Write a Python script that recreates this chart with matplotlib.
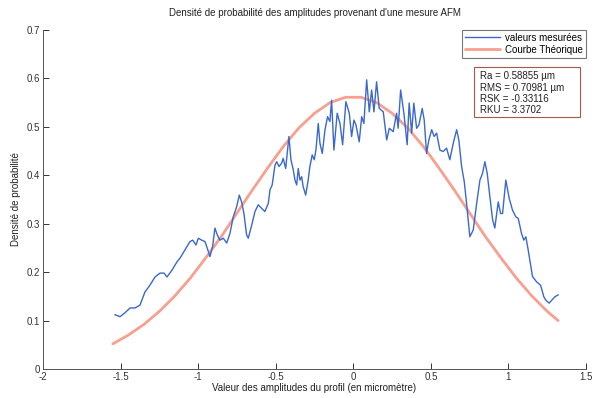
import matplotlib
matplotlib.use("Agg")
import matplotlib.pyplot as plt
from matplotlib.patches import Rectangle

plt.rcParams['font.family'] = ['Liberation Sans', 'DejaVu Sans']

# Measured density (blue)
meas_x = [-1.536, -1.504, -1.472, -1.439, -1.407, -1.375, -1.343, -1.311, -1.278, -1.246,
          -1.220, -1.201, -1.169, -1.137, -1.117, -1.085, -1.053, -1.035, -1.014, -0.999,
          -0.977, -0.956, -0.941, -0.924, -0.907, -0.892, -0.877, -0.860, -0.838, -0.816,
          -0.795, -0.774, -0.752, -0.735, -0.720, -0.705, -0.688, -0.677, -0.655, -0.634,
          -0.613, -0.591, -0.570, -0.548, -0.537, -0.523, -0.505, -0.494, -0.479, -0.462,
          -0.452, -0.436, -0.415, -0.402, -0.387, -0.376, -0.365, -0.355, -0.344, -0.333,
          -0.323, -0.307, -0.291, -0.280, -0.265, -0.252, -0.241, -0.226, -0.215, -0.200,
          -0.183, -0.166, -0.151, -0.140, -0.125, -0.104, -0.086, -0.069, -0.048, -0.026,
          -0.011, 0.004, 0.017, 0.038, 0.054, 0.068, 0.086, 0.103, 0.118, 0.133,
          0.150, 0.167, 0.193, 0.215, 0.232, 0.257, 0.279, 0.289, 0.305, 0.326,
          0.347, 0.360, 0.376, 0.390, 0.408, 0.423, 0.444, 0.457, 0.472, 0.487,
          0.505, 0.521, 0.537, 0.558, 0.579, 0.601, 0.622, 0.644, 0.666, 0.680,
          0.698, 0.715, 0.730, 0.751, 0.773, 0.795, 0.816, 0.833, 0.848, 0.863,
          0.880, 0.898, 0.912, 0.934, 0.949, 0.962, 0.983, 1.005, 1.026, 1.048,
          1.063, 1.084, 1.099, 1.112, 1.127, 1.155, 1.181, 1.207, 1.228, 1.241,
          1.262, 1.299, 1.320]
meas_y = [0.112, 0.108, 0.116, 0.126, 0.126, 0.132, 0.159, 0.173, 0.190, 0.198,
          0.198, 0.190, 0.204, 0.221, 0.229, 0.246, 0.263, 0.266, 0.256, 0.270,
          0.266, 0.263, 0.249, 0.232, 0.253, 0.291, 0.277, 0.266, 0.270, 0.260,
          0.280, 0.314, 0.335, 0.359, 0.345, 0.321, 0.277, 0.270, 0.297, 0.325,
          0.339, 0.332, 0.325, 0.342, 0.370, 0.380, 0.421, 0.428, 0.418, 0.425,
          0.435, 0.414, 0.480, 0.432, 0.411, 0.390, 0.380, 0.414, 0.390, 0.397,
          0.376, 0.359, 0.390, 0.418, 0.442, 0.432, 0.452, 0.507, 0.466, 0.445,
          0.493, 0.521, 0.511, 0.555, 0.452, 0.528, 0.507, 0.463, 0.552, 0.528,
          0.480, 0.514, 0.504, 0.469, 0.521, 0.507, 0.597, 0.531, 0.576, 0.531,
          0.593, 0.538, 0.531, 0.473, 0.497, 0.490, 0.528, 0.497, 0.576, 0.528,
          0.463, 0.549, 0.487, 0.549, 0.497, 0.504, 0.538, 0.514, 0.445, 0.473,
          0.494, 0.480, 0.487, 0.452, 0.449, 0.456, 0.432, 0.466, 0.494, 0.473,
          0.418, 0.387, 0.342, 0.273, 0.287, 0.342, 0.390, 0.404, 0.428, 0.404,
          0.356, 0.308, 0.291, 0.345, 0.321, 0.321, 0.390, 0.352, 0.328, 0.314,
          0.311, 0.280, 0.266, 0.273, 0.246, 0.191, 0.180, 0.173, 0.149, 0.142,
          0.136, 0.149, 0.153]

# Theoretical curve (red)
theo_x = [-1.55, -1.45, -1.35, -1.25, -1.15, -1.05, -0.95, -0.85, -0.75, -0.65,
          -0.55, -0.45, -0.35, -0.25, -0.15, -0.05, 0.05, 0.15, 0.25, 0.35,
          0.45, 0.55, 0.65, 0.75, 0.85, 0.95, 1.05, 1.15, 1.25, 1.32]
theo_y = [0.052, 0.070, 0.092, 0.119, 0.151, 0.188, 0.230, 0.274, 0.322, 0.370,
          0.416, 0.460, 0.498, 0.528, 0.550, 0.561, 0.561, 0.550, 0.528, 0.498,
          0.460, 0.416, 0.370, 0.322, 0.274, 0.230, 0.188, 0.151, 0.119, 0.100]

x_ticks = [-2, -1.5, -1, -0.5, 0, 0.5, 1, 1.5]
x_tick_labels = ['-2', '-1.5', '-1', '-0.5', '0', '0.5', '1', '1.5']
y_ticks = [0, 0.1, 0.2, 0.3, 0.4, 0.5, 0.6, 0.7]
y_tick_labels = ['0', '0.1', '0.2', '0.3', '0.4', '0.5', '0.6', '0.7']

stats_lines = ["Ra = 0.58855 µm", "RMS = 0.70981 µm", "RSK = -0.33116", "RKU = 3.3702"]

fig = plt.figure(figsize=(6.01, 3.98), dpi=100)
ax = fig.add_axes([0.0716, 0.0729, 0.9035, 0.8518])

ax.plot(meas_x, meas_y, color='#3a68cc', lw=1.0, label='valeurs mesurées', zorder=3)
ax.plot(theo_x, theo_y, color='#f7a090', lw=2.0, label='Courbe Théorique',
        solid_capstyle='round', zorder=2)

ax.set_xlim(-2, 1.5)
ax.set_ylim(0, 0.7)
ax.set_xticks(x_ticks)
ax.set_xticklabels(x_tick_labels)
ax.set_yticks(y_ticks)
ax.set_yticklabels(y_tick_labels)
ax.tick_params(direction='in', length=4, width=0.7, labelsize=7, colors='#333333', pad=2)
for s in ['top', 'right']:
    ax.spines[s].set_visible(False)
for s in ['left', 'bottom']:
    ax.spines[s].set_color('#555555')
    ax.spines[s].set_linewidth(0.7)

ax.set_title("Densité de probabilité des amplitudes provenant d'une mesure AFM",
             fontsize=7, color='#222222', pad=10)
ax.set_xlabel("Valeur des amplitudes du profil (en micromètre)", fontsize=7,
              color='#222222', labelpad=1)
ax.set_ylabel("Densité de probabilité", fontsize=7, color='#222222', labelpad=4)

leg = ax.legend(loc='upper right', bbox_to_anchor=(1.0, 1.0), borderaxespad=0,
                fontsize=7, frameon=True, fancybox=False, handlelength=3.6,
                handletextpad=0.5, borderpad=0.3, labelspacing=0.2)
leg.get_frame().set_edgecolor('#555555')
leg.get_frame().set_linewidth(0.8)

ax.add_patch(Rectangle((0.7937, 0.7434), 0.1952, 0.1475, transform=ax.transAxes,
                       facecolor='white', edgecolor='#a85a48', linewidth=0.8,
                       zorder=4, clip_on=False))
ax.text(0.805, 0.878, "\n".join(stats_lines), transform=ax.transAxes,
        ha='left', va='top', fontsize=7, color='#222222', linespacing=1.15, zorder=5)

fig.savefig("out.png", dpi=100)
